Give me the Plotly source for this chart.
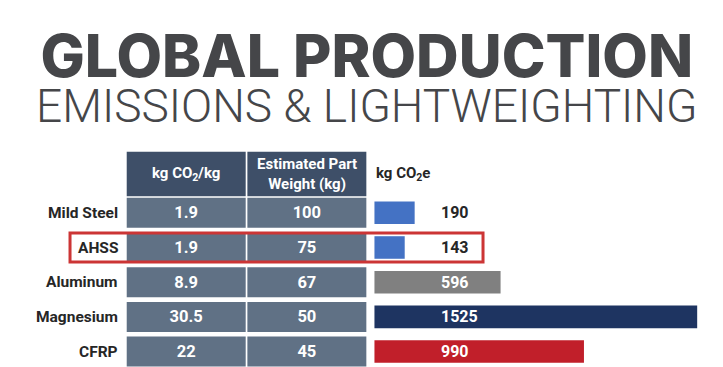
import plotly.graph_objects as go

# ---------------- data ----------------
materials = ["Mild Steel", "AHSS", "Aluminum", "Magnesium", "CFRP"]
co2_per_kg = ["1.9", "1.9", "8.9", "30.5", "22"]
part_weight = ["100", "75", "67", "50", "45"]
co2e = [190, 143, 596, 1525, 990]
bar_colors = ["#4472c4", "#4472c4", "#808080", "#1e3461", "#c11f2a"]
col_headers = ["kg CO<sub>2</sub>/kg", "Estimated Part<br>Weight (kg)"]
bar_header = "kg CO<sub>2</sub>e"
highlight = "AHSS"
title_1 = "GLOBAL PRODUCTION"
title_2 = "EMISSIONS &amp; LIGHTWEIGHTING"

# ---------------- layout constants ----------------
W, H = 715, 359          # page body has an 8px margin
HEADER_POS = -1.118      # header row centre in row units
HEADER_H = 1.277
ROW_H = 0.865
CELL_W = 0.986
BAR_H = 0.65
LABEL_X = 304            # value label anchor (bar units)
FONT = "Roboto"
HEADER_BG = "#3e4f68"
CELL_BG = "#607185"
DARK = "#262626"
TITLE_C = "#454649"

rows = list(range(len(materials)))
table_cols = [co2_per_kg, part_weight]

fig = go.Figure()
annotations = []

# table cells
for j, col in enumerate(table_cols):
    fig.add_trace(go.Bar(
        orientation="h", y=rows, x=[CELL_W] * len(rows), base=[j - CELL_W / 2] * len(rows),
        width=ROW_H, marker=dict(color=CELL_BG, line=dict(width=0)),
        text=col, textposition="inside", insidetextanchor="middle", constraintext="none",
        textfont=dict(family=FONT, size=16.5, color="white", weight="bold"),
        xaxis="x2", yaxis="y", hoverinfo="skip", showlegend=False, cliponaxis=False))
    fig.add_trace(go.Bar(
        orientation="h", y=[HEADER_POS], x=[CELL_W], base=[j - CELL_W / 2],
        width=HEADER_H, marker=dict(color=HEADER_BG, line=dict(width=0)),
        xaxis="x2", yaxis="y", hoverinfo="skip", showlegend=False, cliponaxis=False))
    annotations.append(dict(
        text=col_headers[j], xref="x2", yref="y", x=j, y=HEADER_POS,
        xanchor="center", yanchor="middle", showarrow=False,
        font=dict(family=FONT, size=15, color="white", weight="bold")))

# CO2e bars
fig.add_trace(go.Bar(
    orientation="h", y=rows, x=co2e, width=BAR_H,
    marker=dict(color=bar_colors, line=dict(width=0)),
    xaxis="x", yaxis="y", hoverinfo="skip", showlegend=False))

# row labels
for i, m in enumerate(materials):
    annotations.append(dict(
        text=m, xref="x2", yref="y", x=-0.545, y=i, xanchor="right", yanchor="middle",
        showarrow=False, font=dict(family=FONT, size=15.5, color=DARK, weight="bold")))
# value labels
for i, v in enumerate(co2e):
    annotations.append(dict(
        text=str(v), xref="x", yref="y", x=LABEL_X, y=i, xanchor="left", yanchor="middle",
        showarrow=False,
        font=dict(family=FONT, size=16, weight="bold",
                  color=DARK if v < LABEL_X else "white")))
# bar header
annotations.append(dict(
    text=bar_header, xref="x", yref="y", x=0, y=HEADER_POS, xanchor="left", yanchor="middle",
    showarrow=False, font=dict(family=FONT, size=15, color=DARK, weight="bold")))
# two-line title in one text block
title_text = (
    f'<span style="font-family:Inter;font-size:59px;font-weight:800">{title_1}</span>'
    f'<br><span style="font-size:46px;font-weight:300">{title_2}</span>')
annotations.append(dict(
    text=title_text, xref="paper", yref="paper", x=0.502, y=0.809, xanchor="center",
    yanchor="middle", align="center", showarrow=False,
    font=dict(family=FONT, size=34.6, color=TITLE_C)))

# highlight box
hi = materials.index(highlight)
shapes = [dict(type="rect", xref="x2", yref="y", x0=-0.963, x1=2.46,
               y0=hi - 0.42, y1=hi + 0.42, line=dict(color="#cc3535", width=3),
               fillcolor="rgba(0,0,0,0)", layer="above")]

fig.update_layout(
    width=W, height=H, margin=dict(l=0, r=0, t=0, b=0),
    paper_bgcolor="white", plot_bgcolor="white", barmode="overlay",
    xaxis=dict(range=[-1731.6, 1647], visible=False, fixedrange=True),
    xaxis2=dict(range=[-1.477, 4.449], visible=False, overlaying="x", fixedrange=True),
    yaxis=dict(range=[4.444, -5.902], visible=False, fixedrange=True),
    annotations=annotations, shapes=shapes, showlegend=False)

fig.write_html("out.html")
